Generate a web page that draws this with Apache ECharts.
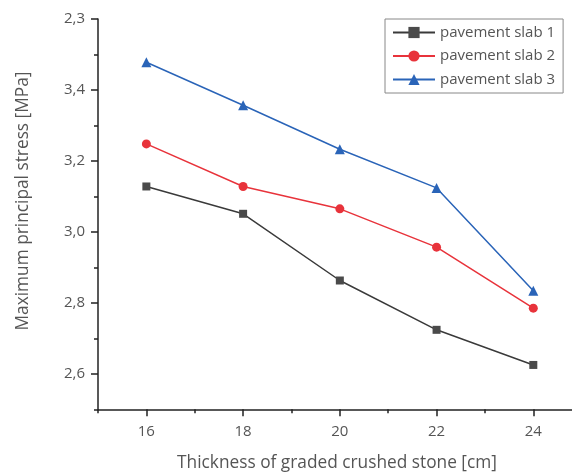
<!DOCTYPE html>
<html>
<head>
<meta charset="utf-8">
<script src="https://cdn.jsdelivr.net/npm/echarts@6/dist/echarts.min.js"></script>
<style>html,body{margin:0;padding:0;background:#fff}#c{width:572px;height:473px}</style>
</head>
<body>
<div id="c"></div>
<script>
var categories = [16, 18, 20, 22, 24];
var slab1 = [3.128, 3.051, 2.863, 2.724, 2.625];
var slab2 = [3.248, 3.128, 3.065, 2.957, 2.785];
var slab3 = [3.478, 3.357, 3.233, 3.124, 2.834];
var seriesNames = ['pavement slab 1', 'pavement slab 2', 'pavement slab 3'];
var yMajor = [2.6, 2.8, 3.0, 3.2, 3.4, 3.6];
var yMajorLabels = ['2,6', '2,8', '3,0', '3,2', '3,4', '2,3'];
var yMinor = [2.5, 2.7, 2.9, 3.1, 3.3, 3.5];
var xMajor = [16, 18, 20, 22, 24];
var xMinor = [15, 17, 19, 21, 23];
var xTitle = 'Thickness of graded crushed stone [cm]';
var yTitle = 'Maximum principal stress [MPa]';

var FONT = 'Open Sans';
var AX = '#222';
var chart = echarts.init(document.getElementById('c'), null, {renderer: 'canvas'});

function pairs(vals) { return categories.map(function (c, i) { return [c, vals[i]]; }); }

chart.setOption({
  animation: false,
  backgroundColor: '#fff',
  textStyle: {fontFamily: FONT},
  grid: {left: 98, top: 19, width: 474, height: 390.3, containLabel: false},
  xAxis: [{
    type: 'value', min: 15, max: 24.8,
    axisLine: {show: true, onZero: false, lineStyle: {color: AX, width: 1.5}},
    axisTick: {show: true, inside: false, length: 7, customValues: xMajor, lineStyle: {color: AX, width: 1.5}},
    axisLabel: {show: true, customValues: xMajor, margin: 15, fontSize: 15, color: '#555', fontFamily: FONT},
    splitLine: {show: false}
  }, {
    type: 'value', min: 15, max: 24.8, position: 'bottom',
    axisLine: {show: false, onZero: false},
    axisTick: {show: true, inside: false, length: 4, customValues: xMinor, lineStyle: {color: AX, width: 1.5}},
    axisLabel: {show: false},
    splitLine: {show: false}
  }],
  yAxis: [{
    type: 'value', min: 2.5, max: 3.6,
    axisLine: {show: true, onZero: false, lineStyle: {color: AX, width: 1.5}},
    axisTick: {show: true, inside: false, length: 7, customValues: yMajor, lineStyle: {color: AX, width: 1.5}},
    axisLabel: {show: true, customValues: yMajor, margin: 13, fontSize: 15, color: '#555', fontFamily: FONT,
      formatter: function (v) {
        for (var i = 0; i < yMajor.length; i++) { if (Math.abs(yMajor[i] - v) < 1e-6) return yMajorLabels[i]; }
        return '';
      }},
    splitLine: {show: false}
  }, {
    type: 'value', min: 2.5, max: 3.6, position: 'left',
    axisLine: {show: false, onZero: false},
    axisTick: {show: true, inside: false, length: 4, customValues: yMinor, lineStyle: {color: AX, width: 1.5}},
    axisLabel: {show: false},
    splitLine: {show: false}
  }],
  legend: {
    left: 385, top: 19,
    orient: 'vertical',
    padding: [6, 8, 6, 7],
    itemGap: 8.5, itemWidth: 42, itemHeight: 14,
    borderColor: '#888', borderWidth: 1,
    backgroundColor: '#fff',
    textStyle: {fontSize: 15, color: '#555', fontFamily: FONT},
    data: seriesNames
  },
  graphic: [{
    type: 'text', x: 23, y: 201, rotation: Math.PI / 2,
    style: {text: yTitle, fontFamily: FONT, fontSize: 17.3, fill: '#555', align: 'center', verticalAlign: 'middle'}
  }, {
    type: 'text', x: 337, y: 463,
    style: {text: xTitle, fontFamily: FONT, fontSize: 17.3, fill: '#555', align: 'center', verticalAlign: 'middle'}
  }],
  series: [{
    name: seriesNames[0], type: 'line', data: pairs(slab1),
    symbol: 'rect', symbolSize: 8,
    lineStyle: {color: '#3a3a3a', width: 1.5},
    itemStyle: {color: '#4a4a4a'}
  }, {
    name: seriesNames[1], type: 'line', data: pairs(slab2),
    symbol: 'circle', symbolSize: 9,
    lineStyle: {color: '#e8333b', width: 1.5},
    itemStyle: {color: '#e8333b'}
  }, {
    name: seriesNames[2], type: 'line', data: pairs(slab3),
    symbol: 'triangle', symbolSize: 10,
    lineStyle: {color: '#2a64b8', width: 1.5},
    itemStyle: {color: '#2a64b8'}
  }]
});
</script>
</body>
</html>
